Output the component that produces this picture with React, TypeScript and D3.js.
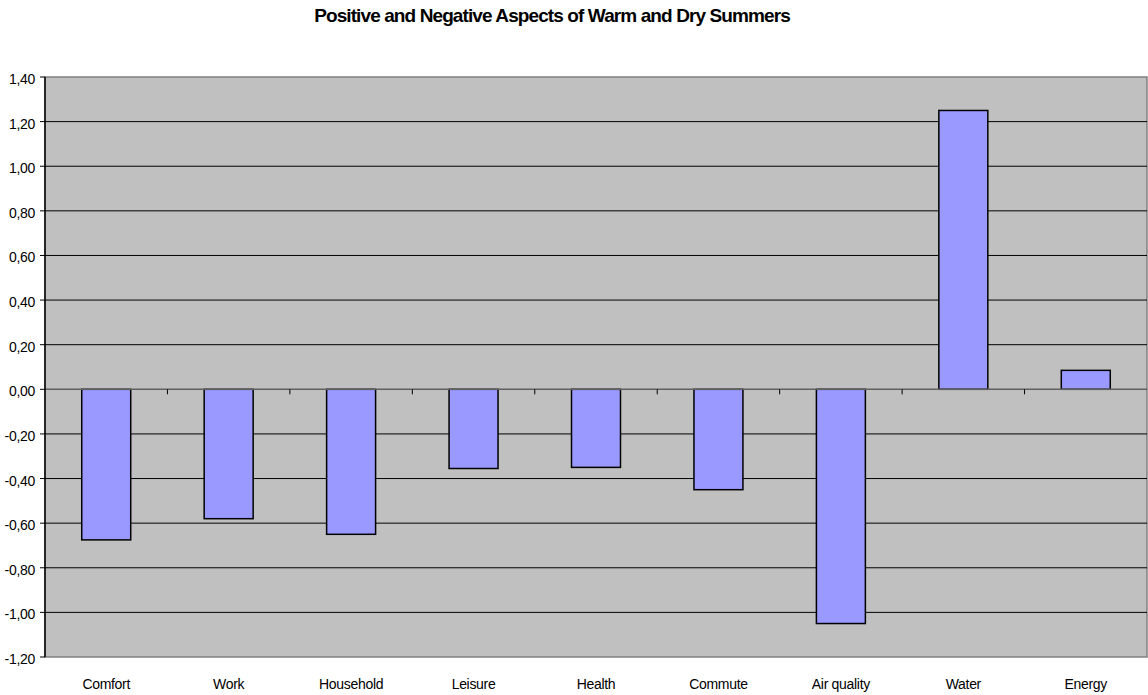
import React from "react";
import * as d3 from "d3";

const categories = ["Comfort", "Work", "Household", "Leisure", "Health", "Commute", "Air quality", "Water", "Energy"];
const values = [-0.675, -0.58, -0.65, -0.355, -0.35, -0.45, -1.05, 1.25, 0.085];
const yTicks = [1.4, 1.2, 1.0, 0.8, 0.6, 0.4, 0.2, 0, -0.2, -0.4, -0.6, -0.8, -1.0, -1.2];
const title = "Positive and Negative Aspects of Warm and Dry Summers";

export default function App() {
  const W = 1148, H = 695;
  const left = 45, right = 1147, top = 77, bottom = 657;
  const y = d3.scaleLinear().domain([-1.2, 1.4]).range([bottom, top]);
  const x = d3.scaleBand().domain(categories).range([left, right]).paddingInner(0).paddingOuter(0);
  const bw = x.bandwidth() / 2.5;
  const fmt = (v: number) => d3.format(".2f")(v).replace("−", "-").replace(".", ",");
  const font = "'Liberation Sans', Arial, sans-serif";
  const y0 = y(0);
  return (
    <svg width={W} height={H} style={{ position: "absolute", left: 0, top: 0 }} fontFamily={font}>
      <rect x={0} y={0} width={W} height={H} fill="#fff" />
      <text x={552} y={22} textAnchor="middle" fontSize={19} fontWeight="bold" letterSpacing={-0.9}>{title}</text>
      <rect x={left} y={top} width={right - left} height={bottom - top} fill="#c0c0c0" stroke="#808080" strokeWidth={1.5} />
      {yTicks.filter(t => t !== 1.4 && t !== -1.2 && t !== 0).map(t => (
        <line key={t} x1={left} x2={right} y1={y(t)} y2={y(t)} stroke="#000" strokeWidth={1} />
      ))}
      {values.map((v, i) => (
        <rect key={categories[i]} x={(x(categories[i]) as number) + (x.bandwidth() - bw) / 2}
          y={Math.min(y(v), y0)} width={bw} height={Math.abs(y(v) - y0)}
          fill="#9999ff" stroke="#000" strokeWidth={1.5} />
      ))}
      <line x1={left} x2={right} y1={y0} y2={y0} stroke="#606060" strokeWidth={1.5} />
      {categories.slice(1).map(c => (
        <line key={c} x1={x(c) as number} x2={x(c) as number} y1={y0} y2={y0 + 5} stroke="#000" strokeWidth={1} />
      ))}
      <line x1={left} x2={left} y1={top} y2={bottom} stroke="#000" strokeWidth={1.5} />
      {yTicks.map(t => (
        <g key={t}>
          <line x1={left - 5} x2={left} y1={y(t)} y2={y(t)} stroke="#000" strokeWidth={1} />
          <text x={35} y={y(t) + 7} textAnchor="end" fontSize={14} letterSpacing={-0.3}>{fmt(t)}</text>
        </g>
      ))}
      {categories.map(c => (
        <text key={c} x={(x(c) as number) + x.bandwidth() / 2} y={689} textAnchor="middle" fontSize={14} letterSpacing={-0.3}>{c}</text>
      ))}
    </svg>
  );
}
